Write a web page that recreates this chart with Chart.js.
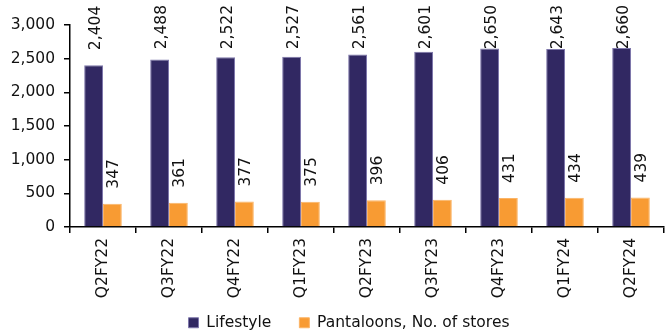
<!DOCTYPE html>
<html>
<head>
<meta charset="utf-8">
<script src="https://cdn.jsdelivr.net/npm/chart.js@4/dist/chart.umd.min.js"></script>
<style>
  html, body { margin: 0; padding: 0; background: #fff; }
  #wrap { width: 665px; height: 333px; }
</style>
</head>
<body>
<div id="wrap"><canvas id="c" width="665" height="333"></canvas></div>
<script>
const categories = ['Q2FY22','Q3FY22','Q4FY22','Q1FY23','Q2FY23','Q3FY23','Q4FY23','Q1FY24','Q2FY24'];
const lifestyle = [2404, 2488, 2522, 2527, 2561, 2601, 2650, 2643, 2660];
const pantaloons = [347, 361, 377, 375, 396, 406, 431, 434, 439];
const seriesNames = ['Lifestyle', 'Pantaloons, No. of stores'];
const yMin = 0, yMax = 3000, yStep = 500;

const FONT = 'DejaVu Sans';
const FS = 15.5;
const TXT = '#111';

Chart.defaults.font.family = FONT;
Chart.defaults.font.size = FS;
Chart.defaults.color = TXT;

const fmt = v => Number(v).toLocaleString('en-US');

const labelPlugin = {
  id: 'barLabels',
  afterDatasetsDraw(chart) {
    const ctx = chart.ctx;
    ctx.save();
    ctx.font = FS + 'px "' + FONT + '"';
    ctx.fillStyle = TXT;
    ctx.textAlign = 'left';
    ctx.textBaseline = 'middle';
    chart.data.datasets.forEach((ds, di) => {
      const meta = chart.getDatasetMeta(di);
      meta.data.forEach((bar, i) => {
        const txt = fmt(ds.data[i]);
        const w = ctx.measureText(txt).width;
        let start = bar.y - 15;
        if (start - w < 5) start = 5 + w;
        ctx.save();
        ctx.translate(bar.x + 2, start);
        ctx.rotate(-Math.PI / 2);
        ctx.fillText(txt, 0, 0);
        ctx.restore();
      });
    });
    ctx.restore();
  }
};

// shift the legend into the reference position (after layout, before drawing)
const legendShift = {
  id: 'legendShift',
  beforeDraw(chart) {
    const lg = chart.legend;
    if (!lg) return;
    lg.left += 17; lg.right += 17;
    lg.top = 287; lg.bottom = 333;
  }
};

new Chart(document.getElementById('c'), {
  type: 'bar',
  data: {
    labels: categories,
    datasets: [
      { label: seriesNames[0], data: lifestyle, backgroundColor: '#312862', borderColor: '#7e77ab', borderWidth: 1, borderSkipped: 'bottom' },
      { label: seriesNames[1], data: pantaloons, backgroundColor: '#F89B33', borderColor: '#fbb466', borderWidth: 1, borderSkipped: 'bottom' }
    ]
  },
  options: {
    responsive: false,
    animation: false,
    devicePixelRatio: 1,
    layout: { padding: { top: 25, right: 1, left: 0, bottom: 0 } },
    datasets: { bar: { categoryPercentage: 0.57, barPercentage: 1.0 } },
    scales: {
      x: {
        grid: { display: true, drawOnChartArea: false, drawTicks: true, tickLength: 6, color: '#000', lineWidth: 1.5, offset: true },
        border: { display: true, color: '#000', width: 1.5 },
        ticks: { minRotation: 90, maxRotation: 90, autoSkip: false, padding: 5, color: TXT, font: { size: FS } },
        afterFit(scale) { scale.height = 76; }
      },
      y: {
        min: yMin, max: yMax,
        grid: { display: true, drawOnChartArea: false, drawTicks: true, tickLength: 6, color: '#000', lineWidth: 1.5 },
        border: { display: true, color: '#000', width: 1.5 },
        ticks: { stepSize: yStep, padding: 9, color: TXT, font: { size: FS }, callback: v => fmt(v) },
        afterFit(scale) { scale.width = 70; }
      }
    },
    plugins: {
      legend: {
        position: 'bottom',
        maxHeight: 30,
        labels: { boxWidth: 10, boxHeight: 10, padding: 28, color: TXT, font: { size: FS } }
      },
      tooltip: { enabled: false }
    }
  },
  plugins: [labelPlugin, legendShift]
});
</script>
</body>
</html>
